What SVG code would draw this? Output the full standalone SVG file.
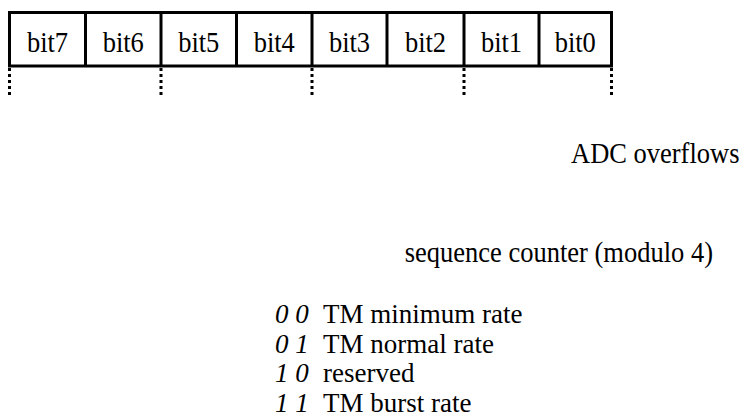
<svg xmlns="http://www.w3.org/2000/svg" width="741" height="418" viewBox="0 0 741 418" font-family="'Liberation Serif', 'Times New Roman', serif">
<style>
text{font-family:'Liberation Serif','Times New Roman',serif;font-size:26.5px;fill:#000}
.c{text-anchor:middle}
.i{font-style:italic}
.l{font-size:27px}
.box{fill:#fff;stroke:#000;stroke-width:3}
.div{stroke:#000;stroke-width:3}
.dot{stroke:#000;stroke-width:3;stroke-dasharray:3 3}
</style>
<rect width="741" height="418" fill="#fff"/>
<g id="register">
<rect class="box" x="9.5" y="12.5" width="602" height="53.5"/>
<line class="div" x1="85.5" y1="12.5" x2="85.5" y2="66"/>
<line class="div" x1="161" y1="12.5" x2="161" y2="66"/>
<line class="div" x1="236.5" y1="12.5" x2="236.5" y2="66"/>
<line class="div" x1="312" y1="12.5" x2="312" y2="66"/>
<line class="div" x1="387" y1="12.5" x2="387" y2="66"/>
<line class="div" x1="464" y1="12.5" x2="464" y2="66"/>
<line class="div" x1="539" y1="12.5" x2="539" y2="66"/>
<text class="c" transform="translate(47.5 52) scale(1 1.12)">bit7</text>
<text class="c" transform="translate(123.25 52) scale(1 1.12)">bit6</text>
<text class="c" transform="translate(198.75 52) scale(1 1.12)">bit5</text>
<text class="c" transform="translate(274.25 52) scale(1 1.12)">bit4</text>
<text class="c" transform="translate(349.5 52) scale(1 1.12)">bit3</text>
<text class="c" transform="translate(425.5 52) scale(1 1.12)">bit2</text>
<text class="c" transform="translate(501.5 52) scale(1 1.12)">bit1</text>
<text class="c" transform="translate(575.25 52) scale(1 1.12)">bit0</text>
</g>
<g id="connectors">
<line class="dot" x1="9.5" y1="68" x2="9.5" y2="96"/>
<line class="dot" x1="161" y1="68" x2="161" y2="96"/>
<line class="dot" x1="312" y1="68" x2="312" y2="96"/>
<line class="dot" x1="464" y1="68" x2="464" y2="96"/>
<line class="dot" x1="611.5" y1="68" x2="611.5" y2="96"/>
</g>
<g id="adc">
<text transform="translate(571 163) scale(1 1.12)">ADC overflows</text>
</g>
<g id="seq">
<text text-anchor="end" transform="translate(713 262) scale(1 1.12)">sequence counter (modulo 4)</text>
</g>
<g id="modes">
<text class="i l" x="275" y="323">0 0</text>
<text class="l" x="323" y="323">TM minimum rate</text>
<text class="i l" x="275" y="352.5">0 1</text>
<text class="l" x="323" y="352.5">TM normal rate</text>
<text class="i l" x="275" y="382">1 0</text>
<text class="l" x="323" y="382">reserved</text>
<text class="i l" x="275" y="411.5">1 1</text>
<text class="l" x="323" y="411.5">TM burst rate</text>
</g>
</svg>
